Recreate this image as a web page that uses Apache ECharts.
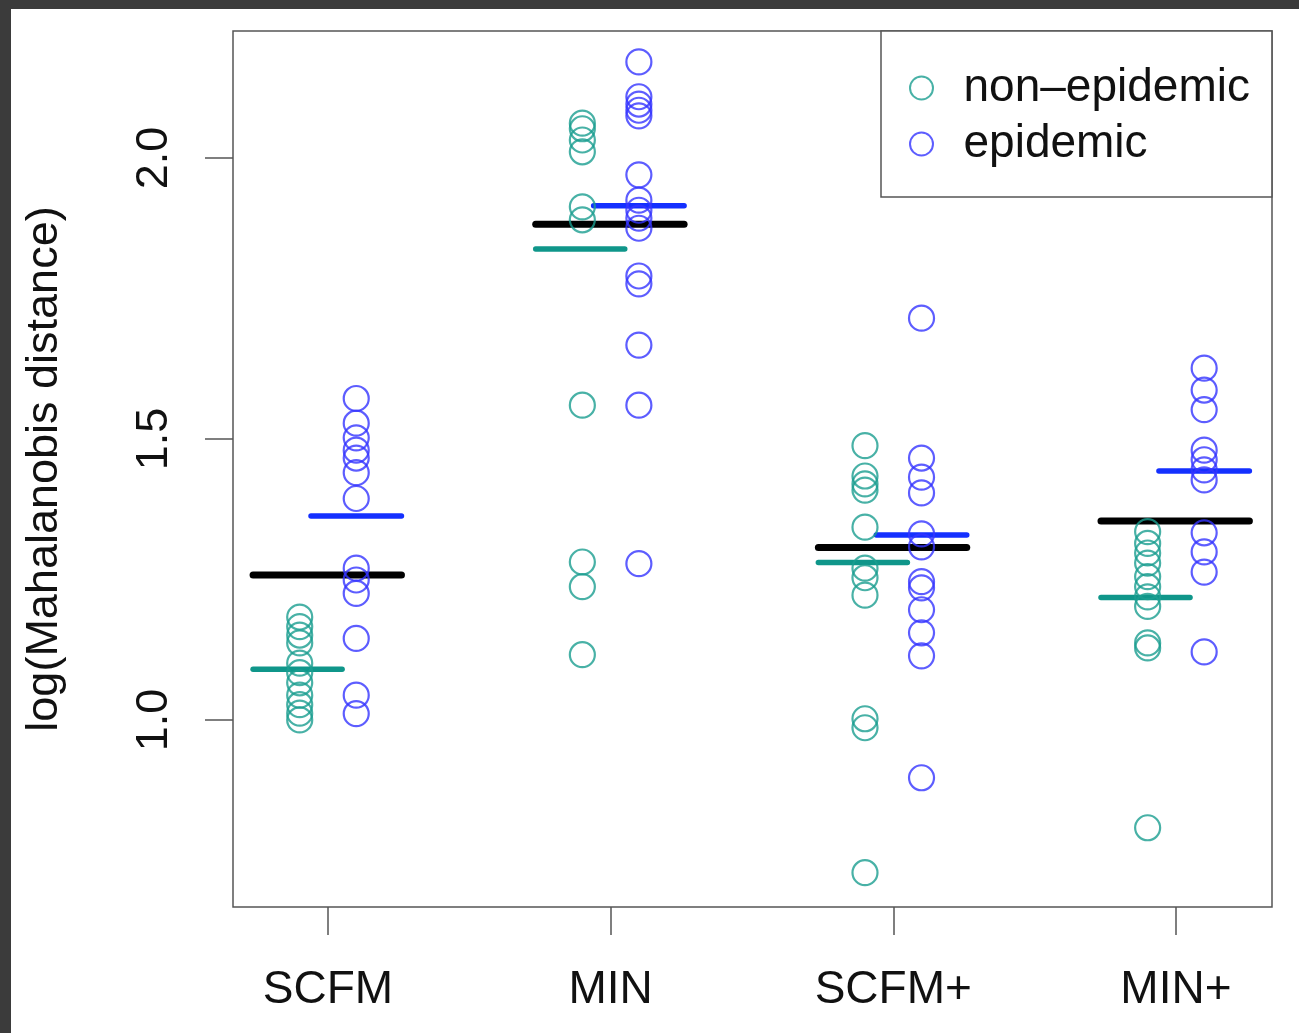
<!DOCTYPE html>
<html>
<head>
<meta charset="utf-8">
<script src="https://cdn.jsdelivr.net/npm/echarts@6/dist/echarts.min.js"></script>
<style>
  html, body { margin: 0; padding: 0; width: 1299px; height: 1033px; background: #3b3b3b; overflow: hidden; }
  #chart { position: absolute; left: 11px; top: 9px; width: 1288px; height: 1024px; background: #ffffff; }
</style>
</head>
<body>
<div id="chart"></div>
<script>
// ---- data ----
const categories = ['SCFM', 'MIN', 'SCFM+', 'MIN+'];
const yTicks = [1.0, 1.5, 2.0];

const nonEpi_SCFM = [1.183, 1.166, 1.151, 1.137, 1.101, 1.084, 1.066, 1.044, 1.027, 1.012, 1.000];
const epi_SCFM = [1.572, 1.528, 1.502, 1.480, 1.466, 1.440, 1.394, 1.270, 1.249, 1.225, 1.145, 1.044, 1.011];

const nonEpi_MIN = [2.062, 2.052, 2.032, 2.011, 1.913, 1.890, 1.560, 1.281, 1.237, 1.116];
const epi_MIN = [2.171, 2.109, 2.096, 2.085, 2.075, 1.970, 1.925, 1.907, 1.893, 1.875, 1.790, 1.776, 1.667, 1.560, 1.278];

const nonEpi_SCFMplus = [1.488, 1.434, 1.420, 1.409, 1.343, 1.270, 1.253, 1.222, 1.002, 0.986, 0.728];
const epi_SCFMplus = [1.715, 1.466, 1.432, 1.404, 1.331, 1.308, 1.246, 1.235, 1.196, 1.155, 1.114, 0.897];

const nonEpi_MINplus = [1.335, 1.314, 1.297, 1.279, 1.255, 1.237, 1.219, 1.202, 1.137, 1.128, 0.808];
const epi_MINplus = [1.626, 1.587, 1.552, 1.480, 1.463, 1.445, 1.427, 1.333, 1.299, 1.263, 1.121];

const meanNonEpidemic = [1.090, 1.838, 1.280, 1.218];
const meanEpidemic = [1.363, 1.915, 1.329, 1.443];
const meanAll = [1.258, 1.882, 1.307, 1.354];

const nonEpiGroups = [nonEpi_SCFM, nonEpi_MIN, nonEpi_SCFMplus, nonEpi_MINplus];
const epiGroups = [epi_SCFM, epi_MIN, epi_SCFMplus, epi_MINplus];

// ---- styling ----
const TEAL = '#1a9e90';
const TEAL_LINE = '#0f968a';
const BLUE = '#3535ff';
const BLUE_LINE = '#1430ff';
const FONT = "'Liberation Sans', Arial, Helvetica, sans-serif";
const NON = 'non\u2013epidemic';
const EPI = 'epidemic';

function pts(groups, off) {
  const out = [];
  groups.forEach((vals, k) => vals.forEach(v => out.push([k + 1 + off, v])));
  return out;
}

function segSeries(name, means, x0off, x1off, color, width) {
  return {
    type: 'custom',
    name: name,
    silent: true,
    z: 2,
    renderItem: function (params, api) {
      const i = api.value(0), y = api.value(1);
      const p0 = api.coord([i + x0off, y]);
      const p1 = api.coord([i + x1off, y]);
      return {
        type: 'line',
        shape: { x1: p0[0], y1: p0[1], x2: p1[0], y2: p1[1] },
        style: { stroke: color, lineWidth: width, lineCap: 'round' }
      };
    },
    data: means.map((m, k) => [k + 1, m])
  };
}

const chart = echarts.init(document.getElementById('chart'), null, { renderer: 'canvas' });
chart.setOption({
  animation: false,
  backgroundColor: '#ffffff',
  textStyle: { fontFamily: FONT },
  grid: {
    left: 222, top: 22, right: 27, bottom: 126,
    show: true, borderColor: '#555555', borderWidth: 1.5, backgroundColor: 'transparent'
  },
  xAxis: {
    type: 'value',
    min: 0.664, max: 4.34,
    splitLine: { show: false },
    axisLine: { show: false },
    axisTick: { show: true, length: 28, customValues: [1, 2, 3, 4], lineStyle: { color: '#555555', width: 1.5 } },
    axisLabel: {
      customValues: [1, 2, 3, 4],
      formatter: v => categories[Math.round(v) - 1] || '',
      margin: 60, fontSize: 46, color: '#111111', fontFamily: FONT
    }
  },
  yAxis: {
    type: 'value',
    min: 0.667, max: 2.226,
    name: 'log(Mahalanobis distance)',
    nameLocation: 'middle',
    nameRotate: 90,
    nameGap: 166,
    nameTextStyle: { fontSize: 45, color: '#111111', fontFamily: FONT },
    splitLine: { show: false },
    axisLine: { show: false },
    axisTick: { show: true, length: 28, customValues: yTicks, lineStyle: { color: '#555555', width: 1.5 } },
    axisLabel: {
      customValues: yTicks,
      formatter: v => v.toFixed(1),
      rotate: 90,
      margin: 56, fontSize: 45, color: '#111111', fontFamily: FONT
    }
  },
  legend: {
    left: 870, top: 22,
    orient: 'vertical',
    padding: [34, 22, 30, 28],
    itemGap: 10,
    itemWidth: 74, itemHeight: 23,
    borderColor: '#555555', borderWidth: 1.5,
    backgroundColor: '#ffffff',
    selectedMode: false,
    textStyle: { fontSize: 46, color: '#111111', fontFamily: FONT, lineHeight: 46 },
    data: [
      { name: NON, icon: 'circle', itemStyle: { color: 'rgba(0,0,0,0)', borderColor: TEAL, borderWidth: 2 } },
      { name: EPI, icon: 'circle', itemStyle: { color: 'rgba(0,0,0,0)', borderColor: BLUE, borderWidth: 2 } }
    ]
  },
  series: [
    segSeries('meanNon', meanNonEpidemic, -0.265, 0.05, TEAL_LINE, 5.5),
    segSeries('meanEpi', meanEpidemic, -0.06, 0.26, BLUE_LINE, 5.5),
    segSeries('meanAll', meanAll, -0.265, 0.26, '#000000', 7),
    {
      type: 'scatter', name: NON, z: 3,
      symbol: 'circle', symbolSize: 25,
      itemStyle: { color: 'rgba(0,0,0,0)', borderColor: TEAL, borderWidth: 2.2 },
      data: pts(nonEpiGroups, -0.1)
    },
    {
      type: 'scatter', name: EPI, z: 3,
      symbol: 'circle', symbolSize: 25,
      itemStyle: { color: 'rgba(0,0,0,0)', borderColor: BLUE, borderWidth: 2.2 },
      data: pts(epiGroups, 0.1)
    }
  ]
});
</script>
</body>
</html>
